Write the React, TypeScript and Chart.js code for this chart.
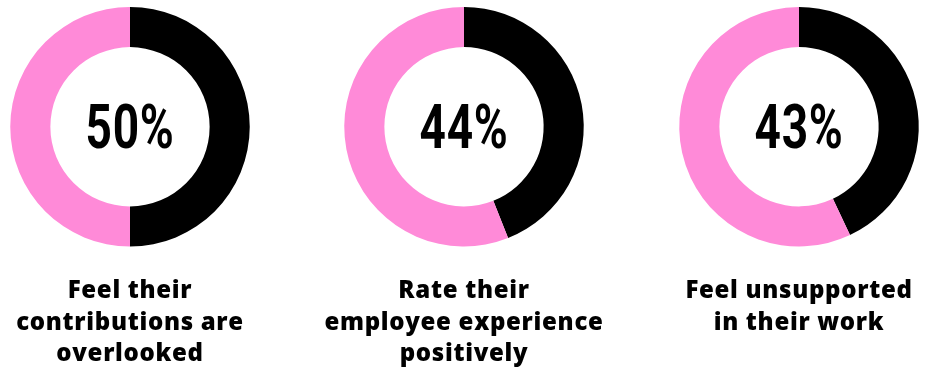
import React, { useEffect, useRef } from "react";
import { Chart, registerables } from "chart.js";

Chart.register(...registerables);

const percentages = [50, 44, 43];
const centerLabels = ["50%", "44%", "43%"];
const captions: string[][] = [
  ["Feel their", "contributions are", "overlooked"],
  ["Rate their", "employee experience", "positively"],
  ["Feel unsupported", "in their work", ""],
];
const sliceColors = ["#000000", "#FF8AD8"];
const centersX = [130, 464, 799];

const spacingPlugin = {
  id: "spacing",
  beforeDraw(chart: any) {
    chart.ctx.letterSpacing = "0.7px";
  },
  afterDraw(chart: any) {
    chart.ctx.letterSpacing = "0px";
  },
};

const centerTextPlugin = {
  id: "centerText",
  afterDraw(chart: any) {
    const txt = chart.options.plugins.centerText?.text;
    if (!txt) return;
    const { ctx, chartArea } = chart;
    const cx = (chartArea.left + chartArea.right) / 2;
    const cy = (chartArea.top + chartArea.bottom) / 2;
    ctx.save();
    ctx.letterSpacing = "1px";
    ctx.font = "bold 62px Roboto";
    const w = ctx.measureText("50%").width;
    const sx = 89 / w;
    ctx.translate(cx, cy);
    ctx.scale(sx, 1);
    ctx.fillStyle = "#000";
    ctx.textAlign = "center";
    ctx.textBaseline = "alphabetic";
    ctx.fillText(txt, 0, 21);
    ctx.restore();
  },
};

function Donut({ idx }: { idx: number }) {
  const ref = useRef<HTMLCanvasElement>(null);
  useEffect(() => {
    if (!ref.current) return;
    const v = percentages[idx];
    const chart = new Chart(ref.current, {
      type: "doughnut",
      data: {
        labels: ["Yes", "No"],
        datasets: [
          {
            data: [v, 100 - v],
            backgroundColor: sliceColors,
            borderWidth: 0,
          },
        ],
      },
      options: {
        animation: false,
        responsive: false,
        events: [],
        cutout: "66.5%",
        layout: { padding: { top: 7 } },
        plugins: {
          legend: { display: false },
          tooltip: { enabled: false },
          title: {
            display: true,
            position: "bottom",
            text: captions[idx],
            color: "#000",
            font: { family: "'Open Sans'", size: 24, weight: 800, lineHeight: 31.5 / 24 },
            padding: { top: 29, bottom: 0 },
          },
          centerText: { text: centerLabels[idx] },
        } as any,
      },
      plugins: [spacingPlugin, centerTextPlugin],
    });
    return () => chart.destroy();
  }, [idx]);
  return (
    <div
      style={{
        position: "absolute",
        left: centersX[idx] - 167,
        top: 0,
        width: 334,
        height: 370,
      }}
    >
      <canvas ref={ref} width={334} height={370} style={{ width: 334, height: 370 }} />
    </div>
  );
}

export default function App() {
  return (
    <div
      style={{
        position: "fixed",
        left: 0,
        top: 0,
        width: 925,
        height: 370,
        background: "#fff",
      }}
    >
      {percentages.map((_, i) => (
        <Donut key={i} idx={i} />
      ))}
    </div>
  );
}
